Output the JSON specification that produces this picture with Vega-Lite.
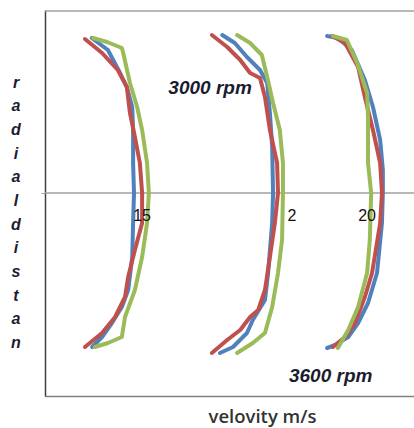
{
  "$schema": "https://vega.github.io/schema/vega-lite/v6.json",
  "width": 369,
  "height": 386,
  "autosize": {"type": "none"},
  "padding": {"left": 45, "top": 10, "right": 0, "bottom": 32},
  "background": "white",
  "config": {"view": {"stroke": null}},
  "datasets": {
    "curves": [
      {"g":"A","s":"s1","i":0,"v":13.86,"r":15.5},{"g":"A","s":"s1","i":1,"v":14.22,"r":14.3},{"g":"A","s":"s1","i":2,"v":14.49,"r":12.0},{"g":"A","s":"s1","i":3,"v":14.64,"r":10.6},{"g":"A","s":"s1","i":4,"v":14.76,"r":8.6},{"g":"A","s":"s1","i":5,"v":14.78,"r":6.3},{"g":"A","s":"s1","i":6,"v":14.78,"r":3.0},{"g":"A","s":"s1","i":7,"v":14.80,"r":0},{"g":"A","s":"s1","i":8,"v":14.78,"r":-3.0},{"g":"A","s":"s1","i":9,"v":14.76,"r":-6.4},{"g":"A","s":"s1","i":10,"v":14.67,"r":-9.7},{"g":"A","s":"s1","i":11,"v":14.53,"r":-11.4},{"g":"A","s":"s1","i":12,"v":14.31,"r":-13.0},{"g":"A","s":"s1","i":13,"v":14.09,"r":-14.4},{"g":"A","s":"s1","i":14,"v":13.87,"r":-15.4},
      {"g":"A","s":"s2","i":0,"v":13.71,"r":15.4},{"g":"A","s":"s2","i":1,"v":14.09,"r":14.0},{"g":"A","s":"s2","i":2,"v":14.44,"r":12.3},{"g":"A","s":"s2","i":3,"v":14.64,"r":10.6},{"g":"A","s":"s2","i":4,"v":14.71,"r":8.0},{"g":"A","s":"s2","i":5,"v":14.82,"r":5.6},{"g":"A","s":"s2","i":6,"v":14.93,"r":3.0},{"g":"A","s":"s2","i":7,"v":14.98,"r":0},{"g":"A","s":"s2","i":8,"v":14.98,"r":-3.0},{"g":"A","s":"s2","i":9,"v":14.82,"r":-5.7},{"g":"A","s":"s2","i":10,"v":14.67,"r":-8.4},{"g":"A","s":"s2","i":11,"v":14.60,"r":-10.4},{"g":"A","s":"s2","i":12,"v":14.38,"r":-12.4},{"g":"A","s":"s2","i":13,"v":14.09,"r":-14.0},{"g":"A","s":"s2","i":14,"v":13.71,"r":-15.4},
      {"g":"A","s":"s3","i":0,"v":13.89,"r":15.5},{"g":"A","s":"s3","i":1,"v":14.20,"r":15.1},{"g":"A","s":"s3","i":2,"v":14.53,"r":14.5},{"g":"A","s":"s3","i":3,"v":14.56,"r":14.0},{"g":"A","s":"s3","i":4,"v":14.71,"r":11.0},{"g":"A","s":"s3","i":5,"v":14.87,"r":8.6},{"g":"A","s":"s3","i":6,"v":14.98,"r":6.3},{"g":"A","s":"s3","i":7,"v":15.09,"r":3.0},{"g":"A","s":"s3","i":8,"v":15.13,"r":0},{"g":"A","s":"s3","i":9,"v":15.09,"r":-3.0},{"g":"A","s":"s3","i":10,"v":14.98,"r":-6.4},{"g":"A","s":"s3","i":11,"v":14.82,"r":-9.7},{"g":"A","s":"s3","i":12,"v":14.60,"r":-12.4},{"g":"A","s":"s3","i":13,"v":14.53,"r":-14.4},{"g":"A","s":"s3","i":14,"v":14.22,"r":-15.0},{"g":"A","s":"s3","i":15,"v":13.93,"r":-15.4},
      {"g":"B","s":"s1","i":0,"v":16.76,"r":15.8},{"g":"B","s":"s1","i":1,"v":17.04,"r":15.0},{"g":"B","s":"s1","i":2,"v":17.31,"r":13.6},{"g":"B","s":"s1","i":3,"v":17.60,"r":12.3},{"g":"B","s":"s1","i":4,"v":17.76,"r":11.0},{"g":"B","s":"s1","i":5,"v":17.82,"r":8.0},{"g":"B","s":"s1","i":6,"v":17.87,"r":4.6},{"g":"B","s":"s1","i":7,"v":17.89,"r":0},{"g":"B","s":"s1","i":8,"v":17.87,"r":-3.0},{"g":"B","s":"s1","i":9,"v":17.78,"r":-8.0},{"g":"B","s":"s1","i":10,"v":17.71,"r":-10.7},{"g":"B","s":"s1","i":11,"v":17.44,"r":-12.7},{"g":"B","s":"s1","i":12,"v":17.31,"r":-14.0},{"g":"B","s":"s1","i":13,"v":17.00,"r":-15.4},{"g":"B","s":"s1","i":14,"v":16.71,"r":-16.0},
      {"g":"B","s":"s2","i":0,"v":16.53,"r":15.8},{"g":"B","s":"s2","i":1,"v":16.87,"r":14.6},{"g":"B","s":"s2","i":2,"v":17.16,"r":13.3},{"g":"B","s":"s2","i":3,"v":17.38,"r":12.0},{"g":"B","s":"s2","i":4,"v":17.60,"r":11.5},{"g":"B","s":"s2","i":5,"v":17.71,"r":9.6},{"g":"B","s":"s2","i":6,"v":17.82,"r":6.3},{"g":"B","s":"s2","i":7,"v":17.98,"r":3.0},{"g":"B","s":"s2","i":8,"v":18.00,"r":0},{"g":"B","s":"s2","i":9,"v":17.93,"r":-3.0},{"g":"B","s":"s2","i":10,"v":17.82,"r":-6.4},{"g":"B","s":"s2","i":11,"v":17.71,"r":-9.7},{"g":"B","s":"s2","i":12,"v":17.56,"r":-11.7},{"g":"B","s":"s2","i":13,"v":17.38,"r":-12.4},{"g":"B","s":"s2","i":14,"v":17.16,"r":-13.7},{"g":"B","s":"s2","i":15,"v":16.87,"r":-14.7},{"g":"B","s":"s2","i":16,"v":16.53,"r":-16.0},
      {"g":"B","s":"s3","i":0,"v":17.09,"r":15.8},{"g":"B","s":"s3","i":1,"v":17.38,"r":15.0},{"g":"B","s":"s3","i":2,"v":17.64,"r":13.8},{"g":"B","s":"s3","i":3,"v":17.76,"r":11.6},{"g":"B","s":"s3","i":4,"v":17.89,"r":9.0},{"g":"B","s":"s3","i":5,"v":18.04,"r":6.3},{"g":"B","s":"s3","i":6,"v":18.11,"r":3.0},{"g":"B","s":"s3","i":7,"v":18.11,"r":0},{"g":"B","s":"s3","i":8,"v":18.09,"r":-4.7},{"g":"B","s":"s3","i":9,"v":18.00,"r":-8.0},{"g":"B","s":"s3","i":10,"v":17.87,"r":-11.4},{"g":"B","s":"s3","i":11,"v":17.71,"r":-14.0},{"g":"B","s":"s3","i":12,"v":17.44,"r":-15.0},{"g":"B","s":"s3","i":13,"v":17.09,"r":-16.0},
      {"g":"C","s":"s1","i":0,"v":19.09,"r":15.7},{"g":"C","s":"s1","i":1,"v":19.33,"r":15.5},{"g":"C","s":"s1","i":2,"v":19.64,"r":14.3},{"g":"C","s":"s1","i":3,"v":19.93,"r":11.3},{"g":"C","s":"s1","i":4,"v":20.11,"r":8.6},{"g":"C","s":"s1","i":5,"v":20.27,"r":5.3},{"g":"C","s":"s1","i":6,"v":20.33,"r":2.3},{"g":"C","s":"s1","i":7,"v":20.33,"r":0},{"g":"C","s":"s1","i":8,"v":20.31,"r":-3.0},{"g":"C","s":"s1","i":9,"v":20.20,"r":-8.0},{"g":"C","s":"s1","i":10,"v":20.00,"r":-11.0},{"g":"C","s":"s1","i":11,"v":19.78,"r":-13.0},{"g":"C","s":"s1","i":12,"v":19.56,"r":-14.4},{"g":"C","s":"s1","i":13,"v":19.27,"r":-15.2},{"g":"C","s":"s1","i":14,"v":19.09,"r":-15.5},
      {"g":"C","s":"s2","i":0,"v":19.20,"r":15.7},{"g":"C","s":"s2","i":1,"v":19.49,"r":15.0},{"g":"C","s":"s2","i":2,"v":19.78,"r":12.6},{"g":"C","s":"s2","i":3,"v":19.93,"r":9.6},{"g":"C","s":"s2","i":4,"v":20.11,"r":6.3},{"g":"C","s":"s2","i":5,"v":20.27,"r":3.0},{"g":"C","s":"s2","i":6,"v":20.31,"r":0},{"g":"C","s":"s2","i":7,"v":20.27,"r":-3.0},{"g":"C","s":"s2","i":8,"v":20.09,"r":-8.0},{"g":"C","s":"s2","i":9,"v":19.93,"r":-10.4},{"g":"C","s":"s2","i":10,"v":19.71,"r":-13.0},{"g":"C","s":"s2","i":11,"v":19.49,"r":-14.4},{"g":"C","s":"s2","i":12,"v":19.22,"r":-15.4},
      {"g":"C","s":"s3","i":0,"v":19.22,"r":15.7},{"g":"C","s":"s3","i":1,"v":19.53,"r":15.3},{"g":"C","s":"s3","i":2,"v":19.76,"r":13.0},{"g":"C","s":"s3","i":3,"v":19.98,"r":10.0},{"g":"C","s":"s3","i":4,"v":20.00,"r":7.6},{"g":"C","s":"s3","i":5,"v":20.00,"r":3.0},{"g":"C","s":"s3","i":6,"v":20.07,"r":0},{"g":"C","s":"s3","i":7,"v":20.04,"r":-4.7},{"g":"C","s":"s3","i":8,"v":19.98,"r":-8.0},{"g":"C","s":"s3","i":9,"v":19.78,"r":-11.4},{"g":"C","s":"s3","i":10,"v":19.56,"r":-13.7},{"g":"C","s":"s3","i":11,"v":19.33,"r":-15.5}
    ],
    "labels": [
      {"t":"15","v":14.98,"r":-2.3},
      {"t":"2","v":18.31,"r":-2.3},
      {"t":"20","v":19.98,"r":-2.3}
    ],
    "notes": [
      {"t":"3000 rpm","v":16.49,"r":10.5},
      {"t":"3600 rpm","v":19.17,"r":-18.3}
    ],
    "lines": [
      {"r": 0},
      {"r": 18.2}
    ]
  },
  "layer": [
    {
      "data": {"name": "lines"},
      "mark": {"type": "rule", "color": "#a0a0a0", "strokeWidth": 1.5},
      "encoding": {"y": {"field": "r", "type": "quantitative", "scale": {"domain": [-20.3, 18.3], "nice": false, "zero": false}}}
    },
    {
      "data": {"name": "curves"},
      "mark": {"type": "line", "strokeWidth": 4, "strokeJoin": "round", "strokeCap": "round"},
      "encoding": {
        "x": {
          "field": "v", "type": "quantitative",
          "scale": {"domain": [12.822, 21.022], "nice": false, "zero": false},
          "axis": {
            "domain": true, "domainColor": "#808080", "domainWidth": 1.5,
            "ticks": false, "labels": false, "grid": false,
            "title": "velovity m/s",
            "titleFont": "Open Sans", "titleFontSize": 18.5, "titleFontWeight": 600,
            "titleColor": "#333333", "titleX": 217, "titleY": 20,
            "titleAlign": "center", "titleBaseline": "middle"
          }
        },
        "y": {
          "field": "r", "type": "quantitative",
          "scale": {"domain": [-20.3, 18.3], "nice": false, "zero": false},
          "axis": {
            "domain": true, "domainColor": "#404040", "domainWidth": 1.5,
            "values": [0], "ticks": true, "tickSize": 4, "tickColor": "#a6a6a6",
            "labels": false, "grid": false,
            "title": ["r","a","d","i","a","l","d","i","s","t","a","n"],
            "titleAngle": 0, "titleFont": "Liberation Sans", "titleFontSize": 16,
            "titleFontStyle": "italic", "titleFontWeight": "bold",
            "titleColor": "#1c1c30", "titleLineHeight": 23.7,
            "titleX": -29.5, "titleY": 72,
            "titleAlign": "center", "titleBaseline": "middle"
          }
        },
        "color": {
          "field": "s", "type": "nominal",
          "scale": {"domain": ["s1","s2","s3"], "range": ["#4F81BD","#C0504D","#9BBB59"]},
          "legend": null
        },
        "detail": {"field": "g", "type": "nominal"},
        "order": {"field": "i", "type": "quantitative"}
      }
    },
    {
      "data": {"name": "labels"},
      "mark": {"type": "text", "font": "Liberation Sans", "fontSize": 16, "color": "#111111", "align": "center", "baseline": "middle"},
      "encoding": {
        "x": {"field": "v", "type": "quantitative"},
        "y": {"field": "r", "type": "quantitative"},
        "text": {"field": "t"}
      }
    },
    {
      "data": {"name": "notes"},
      "mark": {"type": "text", "font": "Liberation Sans", "fontSize": 19, "fontStyle": "italic", "fontWeight": "bold", "color": "#1c1c30", "align": "center", "baseline": "middle", "clip": false},
      "encoding": {
        "x": {"field": "v", "type": "quantitative"},
        "y": {"field": "r", "type": "quantitative"},
        "text": {"field": "t"}
      }
    }
  ]
}
